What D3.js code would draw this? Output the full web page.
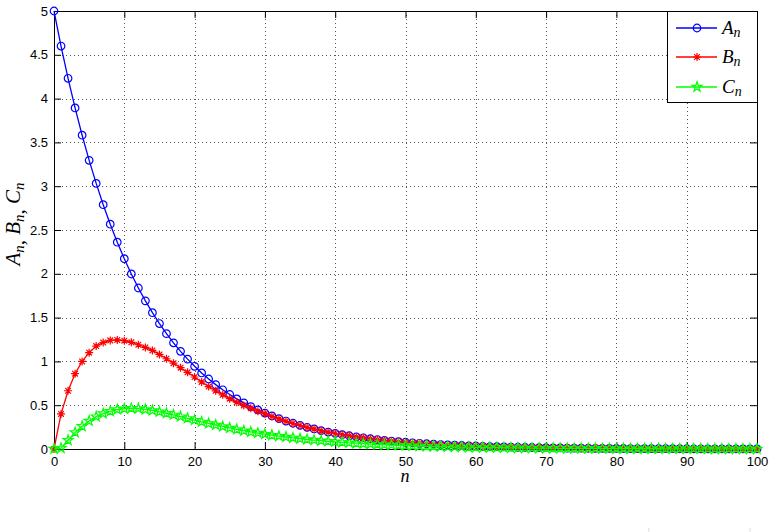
<!DOCTYPE html>
<html><head><meta charset="utf-8">
<script src="https://cdn.jsdelivr.net/npm/d3@7"></script>
<style>body{margin:0;background:#fff}</style></head>
<body><svg id="c" width="775" height="532"></svg>
<script>
const nValues = d3.range(0, 101);
const seriesA = [5, 4.6, 4.232, 3.893, 3.582, 3.295, 3.032, 2.789, 2.566, 2.361,
 2.172, 1.998, 1.838, 1.691, 1.556, 1.432, 1.317, 1.212, 1.115, 1.026,
 0.944, 0.868, 0.799, 0.735, 0.676, 0.622, 0.572, 0.527, 0.484, 0.446,
 0.410, 0.377, 0.347, 0.319, 0.294, 0.270, 0.248, 0.229, 0.210, 0.193,
 0.178, 0.164, 0.151, 0.139, 0.128, 0.117, 0.108, 0.099, 0.091, 0.084,
 0.077, 0.071, 0.065, 0.060, 0.055, 0.051, 0.047, 0.043, 0.040, 0.036,
 0.034, 0.031, 0.028, 0.026, 0.024, 0.022, 0.020, 0.019, 0.017, 0.016,
 0.015, 0.013, 0.012, 0.011, 0.010, 0.0096, 0.0088, 0.0081, 0.0075, 0.0069,
 0.0063, 0.0058, 0.0053, 0.0049, 0.0045, 0.0041, 0.0038, 0.0035, 0.0032, 0.0030,
 0.0027, 0.0025, 0.0023, 0.0021, 0.0020, 0.0018, 0.0017, 0.0015, 0.0014, 0.0013,
 0.0012];
const seriesB = [0, 0.40, 0.665, 0.86, 1.00, 1.10, 1.175, 1.215, 1.24, 1.245,
 1.237, 1.218, 1.19, 1.16, 1.125, 1.08, 1.03, 0.98, 0.928, 0.875,
 0.822, 0.766, 0.713, 0.664, 0.618, 0.575, 0.535, 0.498, 0.464, 0.432,
 0.402, 0.372, 0.343, 0.316, 0.291, 0.268, 0.246, 0.227, 0.209, 0.192,
 0.177, 0.163, 0.150, 0.138, 0.127, 0.117, 0.107, 0.099, 0.091, 0.084,
 0.077, 0.071, 0.065, 0.060, 0.055, 0.050, 0.046, 0.043, 0.039, 0.036,
 0.033, 0.030, 0.028, 0.026, 0.024, 0.022, 0.020, 0.018, 0.017, 0.016,
 0.014, 0.013, 0.012, 0.011, 0.010, 0.0094, 0.0087, 0.0080, 0.0074, 0.0068,
 0.0062, 0.0057, 0.0053, 0.0048, 0.0044, 0.0041, 0.0038, 0.0035, 0.0032, 0.0029,
 0.0027, 0.0025, 0.0023, 0.0021, 0.0019, 0.0018, 0.0016, 0.0015, 0.0014, 0.0013,
 0.0012];
const seriesC = [0, 0.01, 0.10, 0.19, 0.26, 0.32, 0.37, 0.405, 0.43, 0.45,
 0.46, 0.465, 0.462, 0.452, 0.44, 0.425, 0.408, 0.39, 0.37, 0.35,
 0.33, 0.31, 0.292, 0.274, 0.257, 0.24, 0.224, 0.209, 0.195, 0.182,
 0.17, 0.158, 0.147, 0.137, 0.127, 0.118, 0.110, 0.102, 0.095, 0.088,
 0.082, 0.076, 0.071, 0.066, 0.061, 0.057, 0.053, 0.049, 0.046, 0.043,
 0.040, 0.037, 0.034, 0.032, 0.030, 0.028, 0.026, 0.024, 0.022, 0.021,
 0.019, 0.018, 0.017, 0.016, 0.014, 0.013, 0.012, 0.012, 0.011, 0.010,
 0.009, 0.009, 0.008, 0.008, 0.007, 0.006, 0.006, 0.006, 0.005, 0.005,
 0.004, 0.004, 0.004, 0.003, 0.003, 0.003, 0.003, 0.002, 0.002, 0.002,
 0.002, 0.002, 0.002, 0.001, 0.001, 0.001, 0.001, 0.001, 0.001, 0.001,
 0.001];
const xTicks = [0, 10, 20, 30, 40, 50, 60, 70, 80, 90, 100];
const yTicks = [0, 0.5, 1, 1.5, 2, 2.5, 3, 3.5, 4, 4.5, 5];
const seriesNames = ["A", "B", "C"];
const seriesColors = ["#0000ff", "#ff0000", "#00ff00"];
const seriesMarkers = ["circle", "asterisk", "pentagram"];

const svg = d3.select("#c");
const L = 54, R = 757, T = 11, B = 449;
const x = d3.scaleLinear().domain([0, 100]).range([L, R]);
const y = d3.scaleLinear().domain([0, 5]).range([B, T]);

// grid
const g = svg.append("g");
g.selectAll("line.gx").data(xTicks.slice(1, -1)).enter().append("line")
  .attr("x1", d => Math.round(x(d)) + 0.5).attr("x2", d => Math.round(x(d)) + 0.5)
  .attr("y1", T).attr("y2", B)
  .attr("stroke", "#555").attr("stroke-width", 1).attr("stroke-dasharray", "1,3");
g.selectAll("line.gy").data(yTicks.slice(1, -1)).enter().append("line")
  .attr("y1", d => Math.round(y(d)) + 0.5).attr("y2", d => Math.round(y(d)) + 0.5)
  .attr("x1", L).attr("x2", R)
  .attr("stroke", "#555").attr("stroke-width", 1).attr("stroke-dasharray", "1,3");

// axes via d3 axis, inward ticks
const tl = 7;
const axB = svg.append("g").attr("transform", `translate(0,${B})`)
  .call(d3.axisBottom(x).tickValues(xTicks).tickSizeInner(-tl).tickSizeOuter(0).tickPadding(10).tickFormat(d3.format("d")));
const axT = svg.append("g").attr("transform", `translate(0,${T})`)
  .call(d3.axisTop(x).tickValues(xTicks).tickSizeInner(-tl).tickSizeOuter(0).tickFormat(""));
const axL = svg.append("g").attr("transform", `translate(${L},0)`)
  .call(d3.axisLeft(y).tickValues(yTicks).tickSizeInner(-tl).tickSizeOuter(0).tickPadding(6).tickFormat(d => String(d)));
const axR = svg.append("g").attr("transform", `translate(${R},0)`)
  .call(d3.axisRight(y).tickValues(yTicks).tickSizeInner(-tl).tickSizeOuter(0).tickFormat(""));
[axB, axT, axL, axR].forEach(a => {
  a.select(".domain").remove();
  a.selectAll("line").attr("stroke", "#000");
  a.selectAll("text").attr("font-family", "Liberation Sans, Arial, sans-serif")
    .attr("font-size", 13).attr("fill", "#000");
});
axB.selectAll("text").attr("dy", "0.5em");
svg.append("rect").attr("x", L + 0.5).attr("y", T + 0.5).attr("width", R - L).attr("height", B - T)
  .attr("fill", "none").attr("stroke", "#000").attr("stroke-width", 1);

// marker paths
function markerPath(kind) {
  if (kind === "circle") {
    const r = 3.8;
    return `M${r},0A${r},${r} 0 1,1 ${-r},0A${r},${r} 0 1,1 ${r},0Z`;
  }
  if (kind === "asterisk") {
    const r = 4, d = r * 0.7071;
    return `M${-r},0L${r},0M0,${-r}L0,${r}M${-d},${-d}L${d},${d}M${-d},${d}L${d},${-d}`;
  }
  const Ro = 5.2, Ri = Ro * 0.382;
  let p = "";
  for (let i = 0; i < 10; i++) {
    const a = -Math.PI / 2 + i * Math.PI / 5;
    const rr = i % 2 === 0 ? Ro : Ri;
    p += (i === 0 ? "M" : "L") + (rr * Math.cos(a)).toFixed(2) + "," + (rr * Math.sin(a)).toFixed(2);
  }
  return p + "Z";
}

const allSeries = [seriesA, seriesB, seriesC];
const line = d3.line().x((d, i) => x(nValues[i])).y(d => y(d));
const plot = svg.append("g");
allSeries.forEach((s, k) => {
  plot.append("path").datum(s).attr("d", line).attr("fill", "none")
    .attr("stroke", seriesColors[k]).attr("stroke-width", 1.3);
  plot.selectAll(null).data(s).enter().append("path")
    .attr("transform", (d, i) => `translate(${x(nValues[i])},${y(d)})`)
    .attr("d", markerPath(seriesMarkers[k]))
    .attr("fill", "none").attr("stroke", seriesColors[k]).attr("stroke-width", 1.2);
});

// legend
const lg = svg.append("g");
lg.append("rect").attr("x", 667.5).attr("y", 11.5).attr("width", 90).attr("height", 91)
  .attr("fill", "#fff").attr("stroke", "#000").attr("stroke-width", 1);
const legY = [28, 57, 87];
seriesNames.forEach((nm, k) => {
  lg.append("line").attr("x1", 676).attr("x2", 717).attr("y1", legY[k]).attr("y2", legY[k])
    .attr("stroke", seriesColors[k]).attr("stroke-width", 1.3);
  lg.append("path").attr("transform", `translate(697,${legY[k]})`).attr("d", markerPath(seriesMarkers[k]))
    .attr("fill", "none").attr("stroke", seriesColors[k]).attr("stroke-width", 1.2);
  const t = lg.append("text").attr("x", 722).attr("y", legY[k] + 6)
    .attr("font-family", "Liberation Serif, serif").attr("font-style", "italic").attr("font-size", 19);
  t.append("tspan").text(nm);
  t.append("tspan").attr("font-size", 14).attr("dy", 3).text("n");
});

// axis labels
svg.append("text").attr("x", 405).attr("y", 482).attr("text-anchor", "middle")
  .attr("font-family", "Liberation Serif, serif").attr("font-style", "italic").attr("font-size", 18).text("n");
const yl = svg.append("text").attr("transform", "translate(20,224) rotate(-90)").attr("text-anchor", "middle")
  .attr("font-family", "Liberation Serif, serif").attr("font-size", 21);
seriesNames.forEach((nm, k) => {
  yl.append("tspan").attr("font-style", "italic").attr("dy", k === 0 ? 0 : -4).text(nm);
  yl.append("tspan").attr("font-style", "italic").attr("font-size", 15).attr("dy", 4).text("n");
  if (k < 2) yl.append("tspan").attr("dy", 0).text(", ");
});

// faint marks of a cut-off expression at the bottom edge
svg.append("text").attr("x", 648).attr("y", 531).attr("font-family", "Liberation Serif, serif")
  .attr("font-size", 5).attr("fill", "#aaa").text("(");
svg.append("text").attr("x", 749).attr("y", 531).attr("font-family", "Liberation Serif, serif")
  .attr("font-size", 5).attr("fill", "#aaa").text(")");
</script></body></html>
